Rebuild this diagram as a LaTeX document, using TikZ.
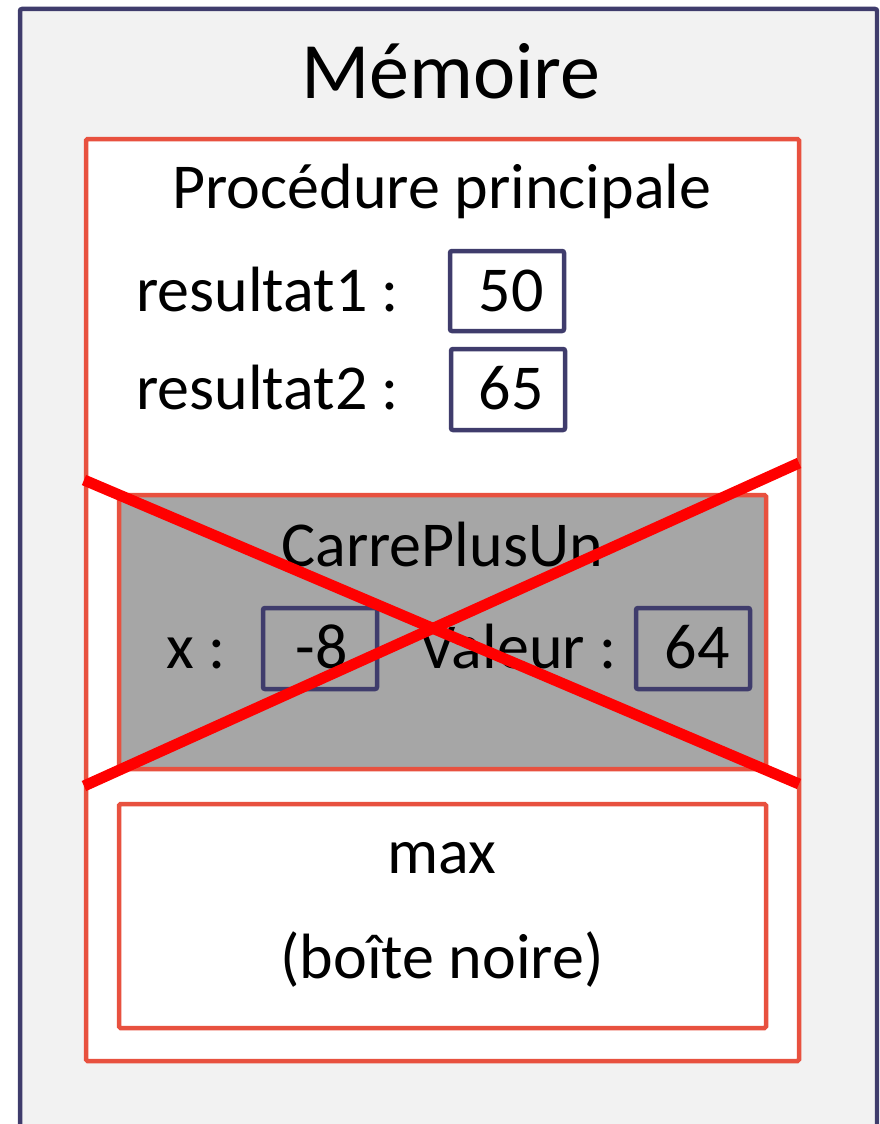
\documentclass[tikz,border=0pt]{standalone}
\usepackage{fontspec}
\setmainfont{Carlito}
\definecolor{frameblue}{HTML}{3F3C6C}
\definecolor{boxred}{HTML}{E8513F}
\definecolor{bggray}{HTML}{F2F2F2}
\definecolor{callgray}{HTML}{A6A6A6}
\tikzset{
  outerframe/.style={draw=frameblue, line width=4.5pt, fill=bggray, rounded corners=2pt},
  redbox/.style={draw=boxred, line width=4.5pt, rounded corners=1.5pt},
  valbox/.style={draw=frameblue, line width=4.5pt, rounded corners=2pt},
  crossline/.style={draw=red, line width=11pt},
  big/.style={font=\fontsize{80}{96}\selectfont, anchor=base, inner sep=0pt},
  txt/.style={font=\fontsize{64}{77}\selectfont, anchor=base, inner sep=0pt},
  txtl/.style={txt, anchor=base west},
}
\begin{document}
\begin{tikzpicture}[x=1pt,y=-1pt]
\useasboundingbox (0,0) rectangle (879,1124);
\begin{scope}
\clip (0,0) rectangle (879,1124);
\path[outerframe] (20,9) rectangle (877,1160);
\end{scope}
\node[big] (memoire) at (451,99) {Mémoire};
% main procedure
\path[redbox, fill=white] (86,139) rectangle (799,1061);
\node[txt] (princ) at (442,208) {Procédure principale};
\node[txtl] (r1) at (136,311) {resultat1 :};
\node[txtl] (r2) at (136,409) {resultat2 :};
\path[valbox] (450,251) rectangle (564,331);
\path[valbox] (451,349) rectangle (565,430);
\node[txt] (v1) at (511,311) {50};
\node[txt] (v2) at (511,409) {65};
% CarrePlusUn
\path[redbox, fill=callgray] (119,495) rectangle (766,769);
\node[txt] (carre) at (442,566) {CarrePlusUn};
\node[txtl] (xl) at (166,668) {x :};
\path[valbox] (263,608) rectangle (377,689);
\node[txt] (xv) at (322,668) {-8};
\node[txtl] (vall) at (419,668) {Valeur :};
\path[valbox] (636,608) rectangle (750,689);
\node[txt] (valv) at (697,668) {64};
% max
\path[redbox, fill=white] (119,804) rectangle (766,1028);
\node[txt] (max) at (442,873) {max};
\node[txt] (bn) at (442,978) {(boîte noire)};
% cross
\coordinate (c1) at (84,480);
\coordinate (c2) at (799,784);
\coordinate (c3) at (84,786);
\coordinate (c4) at (799,463);
\draw[crossline] (c1) -- (c2);
\draw[crossline] (c3) -- (c4);
\end{tikzpicture}
\end{document}
